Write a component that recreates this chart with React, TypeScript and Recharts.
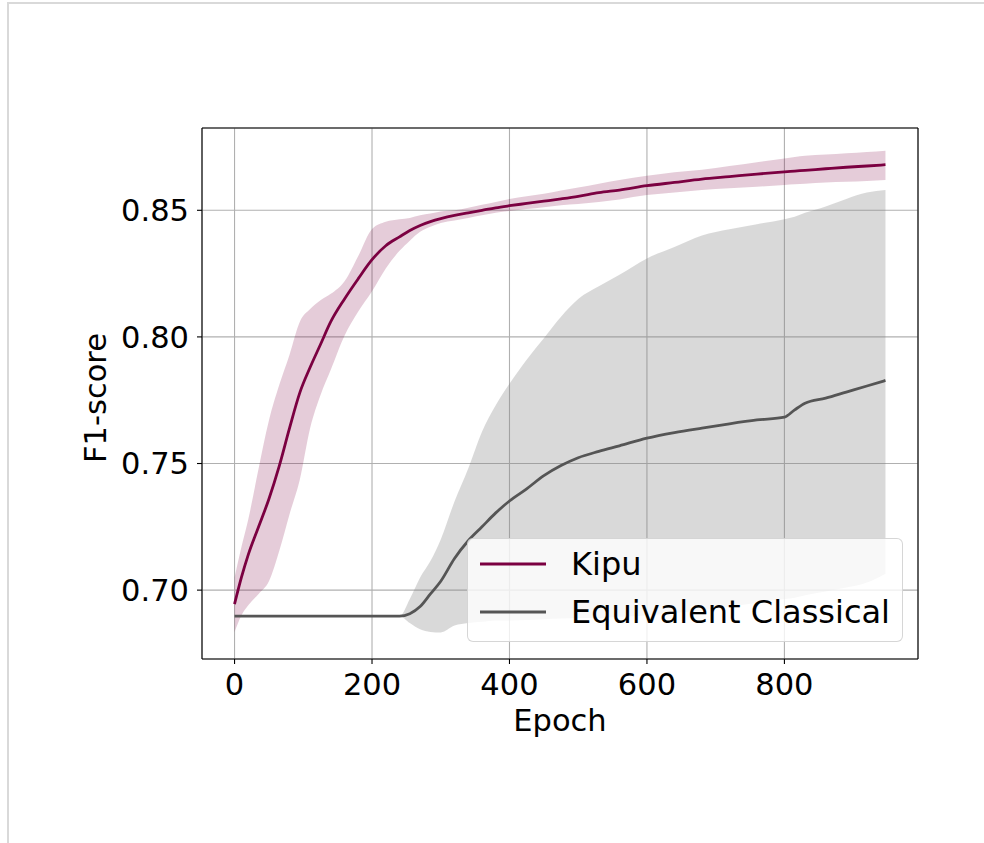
import React from "react";
import {
  Area,
  CartesianGrid,
  ComposedChart,
  Legend,
  Line,
  ReferenceLine,
  XAxis,
  YAxis,
} from "recharts";

const FONT = "'DejaVu Sans', sans-serif";
const KIPU_COLOR = "#7b0041";
const CLASSICAL_COLOR = "#555555";

const EPOCHS = [
  0, 10, 20, 35, 50, 65, 80, 95, 110, 125, 140, 160, 180, 200, 220, 240, 255,
  270, 285, 300, 320, 340, 360, 380, 400, 425, 450, 475, 500, 530, 560, 600,
  640, 680, 720, 760, 800, 815, 830, 860, 890, 920, 947,
];

const KIPU_MEAN = [
  0.6945, 0.705, 0.714, 0.725, 0.736, 0.749, 0.764, 0.778, 0.788, 0.797, 0.806,
  0.815, 0.823, 0.8305, 0.836, 0.8395, 0.842, 0.844, 0.8455, 0.8467, 0.848,
  0.849, 0.85, 0.851, 0.8518, 0.8527, 0.8536, 0.8545, 0.8555, 0.857, 0.858,
  0.8597, 0.861, 0.8623, 0.8633, 0.8643, 0.8652, 0.8655, 0.8658, 0.8664, 0.867,
  0.8675, 0.868,
];
const KIPU_HI = [
  0.705, 0.717, 0.728, 0.748, 0.767, 0.781, 0.793, 0.806, 0.811, 0.8145, 0.817,
  0.822, 0.832, 0.8426, 0.8455, 0.8465, 0.847, 0.848, 0.8487, 0.8495, 0.85,
  0.851, 0.8522, 0.8533, 0.8545, 0.8555, 0.8565, 0.8578, 0.859, 0.8605, 0.862,
  0.8636, 0.865, 0.866, 0.8675, 0.869, 0.8705, 0.871, 0.8715, 0.872, 0.8725,
  0.873, 0.8735,
];
const KIPU_LO = [
  0.6835, 0.69, 0.694, 0.6985, 0.7035, 0.7155, 0.73, 0.7437, 0.764, 0.777,
  0.787, 0.8005, 0.81, 0.818, 0.827, 0.834, 0.838, 0.8415, 0.8435, 0.845,
  0.846, 0.847, 0.848, 0.849, 0.8497, 0.8505, 0.8512, 0.852, 0.8525, 0.8533,
  0.8543, 0.856, 0.857, 0.858, 0.8587, 0.8593, 0.86, 0.8603, 0.8605, 0.861,
  0.8613, 0.8616, 0.862,
];

const CLASSICAL_MEAN = [
  0.6897, 0.6897, 0.6897, 0.6897, 0.6897, 0.6897, 0.6897, 0.6897, 0.6897,
  0.6897, 0.6897, 0.6897, 0.6897, 0.6897, 0.6897, 0.6897, 0.6907, 0.6935,
  0.6985, 0.7035, 0.7125, 0.7195, 0.725, 0.7305, 0.7352, 0.74, 0.7452, 0.7492,
  0.7523, 0.7548, 0.757, 0.76, 0.7622, 0.764, 0.7657, 0.7672, 0.7683, 0.7712,
  0.7738, 0.7758, 0.7782, 0.7806, 0.7828,
];
const CLASSICAL_HI = [
  0.6897, 0.6897, 0.6897, 0.6897, 0.6897, 0.6897, 0.6897, 0.6897, 0.6897,
  0.6897, 0.6897, 0.6897, 0.6897, 0.6897, 0.6897, 0.6897, 0.6965, 0.705,
  0.7115, 0.72, 0.735, 0.748, 0.7625, 0.773, 0.7815, 0.791, 0.7995, 0.808,
  0.815, 0.82, 0.8245, 0.831, 0.8355, 0.84, 0.8425, 0.8445, 0.8465, 0.8475,
  0.849, 0.8515, 0.8545, 0.857, 0.858,
];
const CLASSICAL_LO = [
  0.6897, 0.6897, 0.6897, 0.6897, 0.6897, 0.6897, 0.6897, 0.6897, 0.6897,
  0.6897, 0.6897, 0.6897, 0.6897, 0.6897, 0.6897, 0.6897, 0.687, 0.6845,
  0.6835, 0.6833, 0.686, 0.687, 0.6875, 0.688, 0.688, 0.6882, 0.6885, 0.6888,
  0.689, 0.689, 0.6895, 0.69, 0.691, 0.692, 0.6935, 0.695, 0.6965, 0.697,
  0.698, 0.6995, 0.701, 0.703, 0.7065,
];

const X_TICKS = [0, 200, 400, 600, 800];
const Y_TICKS = [0.7, 0.75, 0.8, 0.85];
const X_DOMAIN = [-47.35, 994.35];
const Y_DOMAIN = [0.6728, 0.8825];

const SERIES = [
  { name: "Kipu", color: KIPU_COLOR },
  { name: "Equivalent Classical", color: CLASSICAL_COLOR },
];

const data = EPOCHS.map((epoch, i) => ({
  epoch,
  kipu: KIPU_MEAN[i],
  kipuBand: [KIPU_LO[i], KIPU_HI[i]],
  classical: CLASSICAL_MEAN[i],
  classicalBand: [CLASSICAL_LO[i], CLASSICAL_HI[i]],
}));

const tickStyle = { fill: "#000", fontSize: 30.5, fontFamily: FONT };

function YTitle() {
  return (
    <text
      x={96}
      y={398}
      transform="rotate(-90 96 398)"
      textAnchor="middle"
      dominantBaseline="central"
      dy={-1}
      fill="#000"
      fontSize={30.5}
      fontFamily={FONT}
    >
      F1-score
    </text>
  );
}

function LegendBox() {
  return (
    <div
      style={{
        boxSizing: "border-box",
        width: 436,
        height: 104,
        borderRadius: 6,
        background: "rgba(255,255,255,0.8)",
        border: "1px solid rgba(204,204,204,0.8)",
        paddingTop: 1,
        fontFamily: FONT,
        fontSize: 32,
        color: "#000",
      }}
    >
      {SERIES.map((s) => (
        <div
          key={s.name}
          style={{ display: "flex", alignItems: "center", height: 48 }}
        >
          <svg width={103} height={10} style={{ flex: "none" }}>
            <line
              x1={12}
              x2={78}
              y1={5}
              y2={5}
              stroke={s.color}
              strokeWidth={2.8}
            />
          </svg>
          <span style={{ lineHeight: "48px", whiteSpace: "nowrap" }}>
            {s.name}
          </span>
        </div>
      ))}
    </div>
  );
}

export default function App() {
  return (
    <div
      style={{
        position: "absolute",
        left: 0,
        top: 0,
        width: 984,
        height: 843,
        background: "#fff",
      }}
    >
      <div
        style={{
          position: "absolute",
          left: 7,
          top: 2,
          right: 0,
          bottom: 0,
          borderTop: "2px solid #d9d9d9",
          borderLeft: "2px solid #d9d9d9",
        }}
      />
      <div style={{ position: "absolute", left: 0, top: 0 }}>
        <ComposedChart
          width={984}
          height={843}
          data={data}
          margin={{ top: 128, right: 66, bottom: 139, left: 0 }}
        >
          <CartesianGrid stroke="#b0b0b0" strokeWidth={1.1} />
          <XAxis
            dataKey="epoch"
            type="number"
            domain={X_DOMAIN}
            ticks={X_TICKS}
            allowDataOverflow
            height={45}
            tick={tickStyle}
            tickSize={5}
            tickMargin={9}
            stroke="#000"
            axisLine={{ stroke: "#000", strokeWidth: 1.1 }}
            tickLine={{ stroke: "#000", strokeWidth: 1.1 }}
            label={{
              value: "Epoch",
              position: "bottom",
              offset: 5,
              fill: "#000",
              fontSize: 30.5,
              fontFamily: FONT,
            }}
          />
          <YAxis
            type="number"
            domain={Y_DOMAIN}
            ticks={Y_TICKS}
            allowDataOverflow
            width={202}
            tick={tickStyle}
            tickFormatter={(v: number) => v.toFixed(2)}
            tickSize={5}
            tickMargin={8}
            axisLine={{ stroke: "#000", strokeWidth: 1.1 }}
            tickLine={{ stroke: "#000", strokeWidth: 1.1 }}
            label={<YTitle />}
          />
          <Area
            type="monotone"
            dataKey="kipuBand"
            fill={KIPU_COLOR}
            fillOpacity={0.2}
            stroke="none"
            isAnimationActive={false}
            activeDot={false}
            legendType="none"
          />
          <Line
            type="monotone"
            dataKey="kipu"
            name="Kipu"
            stroke={KIPU_COLOR}
            strokeWidth={2.8}
            dot={false}
            activeDot={false}
            isAnimationActive={false}
          />
          <Area
            type="monotone"
            dataKey="classicalBand"
            fill="#808080"
            fillOpacity={0.3}
            stroke="none"
            isAnimationActive={false}
            activeDot={false}
            legendType="none"
          />
          <Line
            type="monotone"
            dataKey="classical"
            name="Equivalent Classical"
            stroke={CLASSICAL_COLOR}
            strokeWidth={2.8}
            dot={false}
            activeDot={false}
            isAnimationActive={false}
          />
          {/* top and right spines of the axes box */}
          <ReferenceLine
            y={Y_DOMAIN[1]}
            stroke="#000"
            strokeWidth={1.1}
            ifOverflow="visible"
          />
          <ReferenceLine
            x={X_DOMAIN[1]}
            stroke="#000"
            strokeWidth={1.1}
            ifOverflow="visible"
          />
          <Legend
            layout="vertical"
            align="center"
            verticalAlign="middle"
            content={() => <LegendBox />}
            wrapperStyle={{
              position: "absolute",
              left: 467,
              top: 538,
              width: 436,
              height: 104,
              margin: 0,
            }}
          />
        </ComposedChart>
      </div>
    </div>
  );
}
